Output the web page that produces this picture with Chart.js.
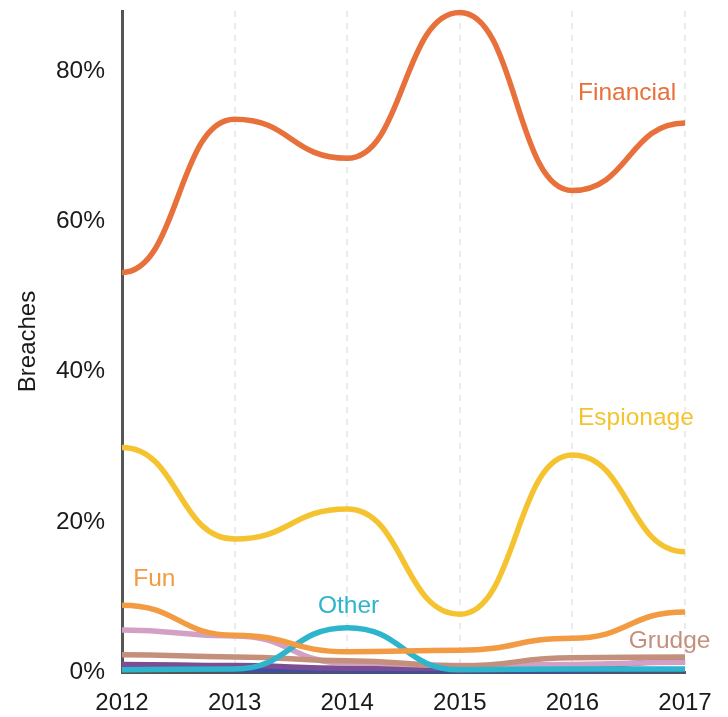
<!DOCTYPE html>
<html><head><meta charset="utf-8">
<script src="https://cdn.jsdelivr.net/npm/chart.js@4/dist/chart.umd.min.js"></script>
<style>html,body{margin:0;padding:0;background:#fff}#wrap{width:728px;height:717px}</style>
</head><body><div id="wrap"><canvas id="c" width="728" height="717"></canvas></div>
<script>
const years = ['2012','2013','2014','2015','2016','2017'];
const financial = [53.2, 73.6, 68.4, 87.8, 64.1, 73.1];
const espionage = [29.9, 17.7, 21.7, 7.7, 28.9, 16.0];
const fun = [8.9, 4.9, 2.7, 2.9, 4.5, 8.0];
const other = [0.3, 0.4, 5.9, 0.3, 0.4, 0.4];
const grudge = [2.3, 2.0, 1.5, 0.8, 1.9, 2.0];
const ideology = [5.6, 4.8, 1.2, 0.85, 1.0, 1.3];
const convenience = [1.0, 0.85, 0.5, 0.5, 0.7, 1.5];
const fear = [0.5, 0.3, 0.2, 0.2, 0.2, 0.3];
const yTicks = [0, 20, 40, 60, 80];
const seriesLabels = [
  {text:'Financial', idx:4.05, val:77.1, color:'#E8703B'},
  {text:'Espionage', idx:4.05, val:33.8, color:'#F5C330'},
  {text:'Fun', idx:0.1, val:12.4, color:'#F29B42'},
  {text:'Other', idx:1.74, val:8.8, color:'#2CB5CC'},
  {text:'Grudge', idx:4.5, val:4.1, color:'#C4907C'}
];
const FONT = '"Liberation Sans", Arial, sans-serif';
function ds(label, data, color){
  return {label, data, borderColor: color, backgroundColor: color, borderWidth: 5.5,
    pointRadius: 0, tension: 0.4, fill: false, clip: false, borderCapStyle:'butt'};
}
// horizontal-tangent ("bump") curves: control points at segment midpoints
const bumpPlugin = {
  id:'bump',
  beforeDatasetsDraw(chart){
    chart.data.datasets.forEach((d, i) => {
      const meta = chart.getDatasetMeta(i);
      const pts = meta.data;
      for (let k = 0; k < pts.length; k++) {
        const p = pts[k];
        const prev = pts[k-1], next = pts[k+1];
        p.cp1x = prev ? (prev.x + p.x) / 2 : p.x; p.cp1y = p.y;
        p.cp2x = next ? (next.x + p.x) / 2 : p.x; p.cp2y = p.y;
      }
      if (meta.dataset) { meta.dataset._pointsUpdated = true; delete meta.dataset._path; }
    });
  }
};
const labelPlugin = {
  id:'seriesLabels',
  afterDatasetsDraw(chart){
    const ctx = chart.ctx, xs = chart.scales.x, ys = chart.scales.y;
    const x0 = xs.getPixelForValue(0), x1 = xs.getPixelForValue(1);
    ctx.save();
    ctx.font = '24.5px ' + FONT;
    ctx.textBaseline = 'middle'; ctx.textAlign = 'left';
    seriesLabels.forEach(l => {
      ctx.fillStyle = l.color;
      ctx.fillText(l.text, x0 + l.idx*(x1-x0), ys.getPixelForValue(l.val));
    });
    ctx.restore();
  }
};
new Chart(document.getElementById('c'), {
  type:'line',
  data:{labels: years, datasets:[
    ds('Financial', financial, '#E8703B'),
    ds('Espionage', espionage, '#F5C330'),
    ds('Fun', fun, '#F29B42'),
    ds('Other', other, '#2CB5CC'),
    ds('Grudge', grudge, '#C4907C'),
    ds('Ideology', ideology, '#D2A0C5'),
    ds('Convenience', convenience, '#7B4D92'),
    ds('Fear', fear, '#3E4EA2')
  ]},
  options:{
    responsive:false, animation:false,
    layout:{padding:{top:11, right:43, left:0, bottom:0}},
    plugins:{legend:{display:false}, tooltip:{enabled:false}},
    scales:{
      x:{type:'category', offset:false,
        grid:{color:'#ebebeb', lineWidth:2, drawTicks:false, tickLength:0},
        border:{display:true, color:'#555', width:3, dash:[6,6]},
        ticks:{font:{family:FONT, size:24}, color:'#1a1a1a', padding:17, maxRotation:0},
        afterFit(s){ s.height = 45; s.paddingLeft = 0; s.paddingRight = 0; }
      },
      y:{min:0, max:88,
        afterBuildTicks(s){ s.ticks = yTicks.map(v=>({value:v})); },
        grid:{display:false, drawTicks:false},
        border:{display:true, color:'#555', width:3},
        ticks:{font:{family:FONT, size:24.5}, color:'#1a1a1a', padding:17, callback:v=>v+'%'},
        title:{display:true, text:'Breaches', font:{family:FONT, size:24}, color:'#1a1a1a', padding:{top:14,bottom:0}},
        afterFit(s){ s.width = 122; s.paddingTop = 0; s.paddingBottom = 0; }
      }
    }
  },
  plugins:[bumpPlugin, labelPlugin]
});
</script></body></html>
